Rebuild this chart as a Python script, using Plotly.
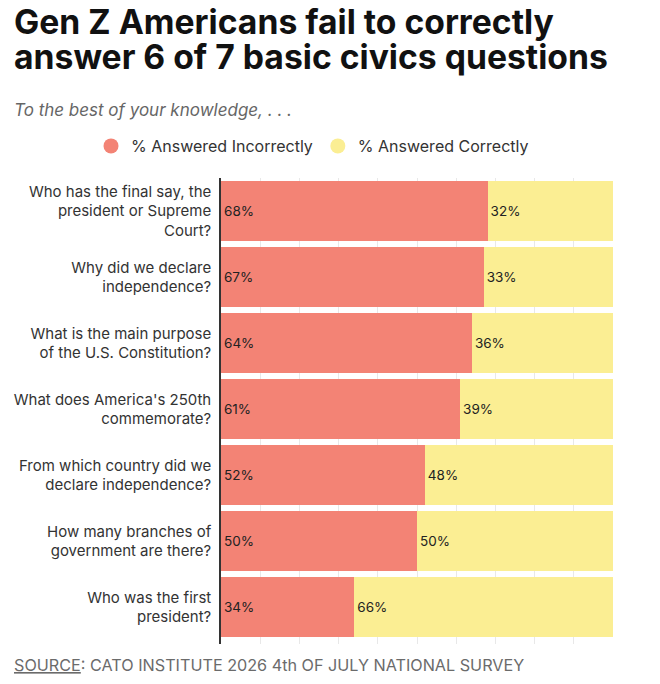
import plotly.graph_objects as go

questions = [
    "Who has the final say, the<br>president or Supreme<br>Court?",
    "Why did we declare<br>independence?",
    "What is the main purpose<br>of the U.S. Constitution?",
    "What does America's 250th<br>commemorate?",
    "From which country did we<br>declare independence?",
    "How many branches of<br>government are there?",
    "Who was the first<br>president?",
]
incorrect = [68, 67, 64, 61, 52, 50, 34]
correct = [32, 33, 36, 39, 48, 50, 66]

title_lines = ["Gen Z Americans fail to correctly", "answer 6 of 7 basic civics questions"]
subtitle = "To the best of your knowledge, . . ."
source = "<u>SOURCE</u>: CATO INSTITUTE 2026 4th OF JULY NATIONAL SURVEY"

RED = "#F38375"
YEL = "#FBEE93"
FONT = "Inter"
W, H = 660, 684
ML, MR, MT, MB = 221, 47, 178, 40

fig = go.Figure()
fig.add_trace(go.Bar(
    y=questions, x=incorrect, orientation="h", name="% Answered Incorrectly",
    marker=dict(color=RED, line=dict(width=0)),
    text=[f"{v}%" for v in incorrect], textposition="inside", insidetextanchor="start",
    textfont=dict(family=FONT, size=13.5, color="#222222"), showlegend=False,
))
fig.add_trace(go.Bar(
    y=questions, x=correct, orientation="h", name="% Answered Correctly",
    marker=dict(color=YEL, line=dict(width=0)),
    text=[f"{v}%" for v in correct], textposition="inside", insidetextanchor="start",
    textfont=dict(family=FONT, size=13.5, color="#222222"), showlegend=False,
))
for nm, col in [("% Answered Incorrectly", RED), ("% Answered Correctly", YEL)]:
    fig.add_trace(go.Scatter(x=[None], y=[None], mode="markers", name=nm,
                             marker=dict(color=col, size=15, symbol="circle")))

pw, ph = W - ML - MR, H - MB - MT
def px(xp, yp):
    return (xp - ML) / pw, (H - MB - yp) / ph

annots = []
for line, yc in zip(title_lines, [22, 57]):
    ax, ay = px(12, yc)
    annots.append(dict(text=f"<b>{line}</b>", x=ax, y=ay, xref="paper", yref="paper",
                       xanchor="left", yanchor="middle", showarrow=False,
                       font=dict(family=FONT, size=33.7, color="#111111")))
ax, ay = px(12, 110)
annots.append(dict(text=f"<i>{subtitle}</i>", x=ax, y=ay, xref="paper", yref="paper",
                   xanchor="left", yanchor="middle", showarrow=False,
                   font=dict(family=FONT, size=17, color="#666666")))
ax, ay = px(12, 665)
annots.append(dict(text=source, x=ax, y=ay, xref="paper", yref="paper",
                   xanchor="left", yanchor="middle", showarrow=False,
                   font=dict(family=FONT, size=16.2, color="#6b6b6b")))

lx, ly = px(91, 146)
fig.update_layout(
    width=W, height=H,
    barmode="stack", bargap=0.1,
    plot_bgcolor="white", paper_bgcolor="white",
    margin=dict(l=ML, r=MR, t=MT, b=MB, autoexpand=False),
    font=dict(family=FONT, color="#333333"),
    showlegend=True,
    legend=dict(orientation="h", x=lx, xanchor="left", y=ly, yanchor="middle",
                traceorder="normal",
                font=dict(family=FONT, size=16, color="#333333")),
    xaxis=dict(range=[0, 100], showticklabels=False, showgrid=True,
               gridcolor="#E8E8E8", gridwidth=1, dtick=10, zeroline=False),
    yaxis=dict(range=[6.56, -0.5], showline=True, linecolor="#333333", linewidth=1.5,
               ticks="", ticklabelstandoff=5,
               tickfont=dict(family=FONT, size=15, color="#333333"), showgrid=False),
    annotations=annots,
)

fig.write_html("out.html", config={"displayModeBar": False},
               post_script="document.body.style.margin='0';document.body.style.overflow='hidden';")
